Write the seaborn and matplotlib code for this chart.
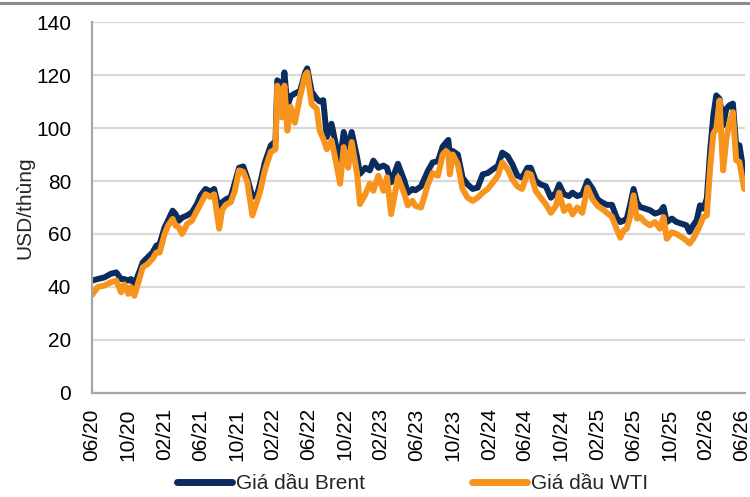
import seaborn as sns
import matplotlib.pyplot as plt
import matplotlib.dates as mdates
from matplotlib.lines import Line2D
import pandas as pd

# -----------------------------------------------------------
# Giá dầu Brent / WTI (USD/thùng)

ngay = [
    "2020-06-01", "2020-06-20", "2020-07-12", "2020-08-04", "2020-08-22", "2020-09-07",
    "2020-09-18", "2020-10-01", "2020-10-10", "2020-10-22", "2020-11-09", "2020-11-19",
    "2020-12-06", "2020-12-22", "2021-01-04", "2021-01-15", "2021-02-01", "2021-02-12",
    "2021-02-28", "2021-03-10", "2021-03-21", "2021-04-01", "2021-04-18", "2021-05-04",
    "2021-05-21", "2021-06-02", "2021-06-19", "2021-07-05", "2021-07-18", "2021-08-04",
    "2021-08-14", "2021-08-26", "2021-09-12", "2021-09-25", "2021-10-10", "2021-10-24",
    "2021-11-07", "2021-11-24", "2021-12-10", "2021-12-20", "2022-01-05", "2022-01-25",
    "2022-02-10", "2022-02-16", "2022-02-24", "2022-03-04", "2022-03-12", "2022-03-22",
    "2022-04-02", "2022-04-16", "2022-05-04", "2022-05-21", "2022-05-28", "2022-06-12",
    "2022-06-29", "2022-07-09", "2022-07-21", "2022-08-02", "2022-08-18", "2022-09-01",
    "2022-09-16", "2022-09-28", "2022-10-13", "2022-10-25", "2022-11-12", "2022-11-22",
    "2022-12-10", "2022-12-25", "2023-01-06", "2023-01-23", "2023-02-09", "2023-02-21",
    "2023-03-07", "2023-03-30", "2023-04-21", "2023-05-02", "2023-05-18", "2023-05-28",
    "2023-06-16", "2023-07-09", "2023-07-25", "2023-08-12", "2023-08-28", "2023-09-08",
    "2023-09-16", "2023-09-21", "2023-10-01", "2023-10-18", "2023-11-03", "2023-11-20",
    "2023-12-07", "2023-12-24", "2024-01-10", "2024-01-27", "2024-02-13", "2024-03-01",
    "2024-03-16", "2024-04-03", "2024-04-19", "2024-05-06", "2024-05-22", "2024-06-09",
    "2024-06-20", "2024-07-07", "2024-07-24", "2024-08-10", "2024-08-27", "2024-09-13",
    "2024-09-24", "2024-10-10", "2024-10-27", "2024-11-08", "2024-11-24", "2024-12-11",
    "2024-12-28", "2025-01-15", "2025-02-01", "2025-02-18", "2025-03-04", "2025-03-21",
    "2025-04-06", "2025-04-18", "2025-04-29", "2025-05-10", "2025-05-21", "2025-06-02",
    "2025-06-13", "2025-06-24", "2025-07-10", "2025-07-27", "2025-08-13", "2025-08-30",
    "2025-09-11", "2025-09-22", "2025-10-09", "2025-10-25", "2025-11-10", "2025-11-27",
    "2025-12-08", "2025-12-20", "2026-01-01", "2026-01-12", "2026-01-23", "2026-02-04",
    "2026-02-15", "2026-02-26", "2026-03-08", "2026-03-19", "2026-03-31", "2026-04-11",
    "2026-04-22", "2026-05-03", "2026-05-14", "2026-05-25", "2026-06-10",
]

brent = [
    42.4, 43.0, 43.6, 45.0, 45.5, 43.0,
    43.0, 42.4, 43.0, 41.0, 46.2, 49.3,
    51.2, 53.0, 55.6, 56.2, 62.5, 65.0,
    68.8, 67.5, 65.0, 66.2, 67.0, 68.2,
    71.3, 74.5, 77.0, 76.0, 77.0, 69.0,
    72.0, 73.0, 74.0, 79.0, 85.0, 85.5,
    81.0, 74.0, 75.0, 79.0, 87.0, 93.4,
    95.0, 118.0, 117.0, 112.0, 121.0, 108.0,
    112.0, 113.0, 114.0, 121.0, 122.5, 113.7,
    111.0, 110.0, 110.5, 96.6, 101.6, 94.0,
    87.7, 98.5, 92.0, 98.5, 89.0, 82.7,
    85.0, 84.0, 87.7, 85.0, 85.8, 85.0,
    79.5, 86.5, 80.0, 75.5, 77.0, 76.5,
    78.0, 83.8, 87.0, 87.5, 93.0, 94.5,
    95.5, 90.0, 91.3, 90.0, 81.3, 78.7,
    77.0, 77.5, 82.5, 83.0, 84.4, 85.7,
    90.7, 89.4, 86.3, 82.0, 81.3, 85.0,
    85.0, 80.0, 78.7, 78.0, 73.7, 75.6,
    78.7, 75.0, 74.3, 75.6, 74.3, 75.0,
    80.0, 77.0, 73.0, 71.8, 71.0, 71.0,
    66.2, 64.5, 65.0, 65.8, 70.8, 77.0,
    72.0, 70.2, 69.6, 69.0, 67.7, 68.3,
    70.2, 64.5, 65.8, 64.5, 63.9, 63.3,
    60.8, 63.3, 65.2, 70.8, 69.6, 73.3,
    91.0, 104.8, 112.3, 111.0, 101.0, 107.3,
    108.6, 109.2, 93.5, 93.5, 82.0,
]

wti = [
    37.0, 40.0, 40.5, 41.8, 42.4, 38.0,
    41.0, 37.4, 40.0, 36.7, 43.6, 47.4,
    48.7, 50.6, 53.0, 53.0, 60.0, 63.1,
    65.7, 63.1, 62.5, 60.0, 63.8, 65.0,
    68.8, 71.3, 75.0, 74.0, 75.0, 62.0,
    69.0, 71.0, 72.0, 76.0, 84.0, 83.5,
    79.5, 67.0, 72.5, 76.0, 84.0, 91.0,
    92.0, 116.0, 113.0, 104.0, 116.0, 99.0,
    108.0, 102.0, 112.0, 120.0, 121.0, 109.0,
    107.3, 99.0, 96.0, 92.0, 95.3, 87.7,
    79.0, 92.8, 85.0, 94.7, 82.7, 71.3,
    75.0, 79.0, 76.3, 82.0, 76.3, 81.4,
    67.5, 81.4, 75.0, 70.8, 72.5, 70.6,
    70.0, 78.7, 83.0, 82.0, 90.0, 91.3,
    90.5, 82.5, 90.0, 86.3, 77.0, 73.7,
    72.5, 73.7, 75.6, 77.0, 79.4, 82.0,
    87.0, 84.4, 80.6, 78.0, 77.0, 83.0,
    82.5, 76.2, 73.7, 71.2, 68.0, 70.6,
    75.6, 68.7, 70.6, 67.4, 70.0, 68.0,
    77.5, 73.0, 70.6, 69.3, 68.0, 66.5,
    61.8, 58.6, 61.3, 62.0, 66.4, 74.6,
    65.8, 66.4, 64.5, 63.3, 64.5, 62.0,
    66.4, 58.2, 60.7, 60.0, 58.9, 57.6,
    56.4, 58.2, 60.7, 63.3, 66.4, 67.0,
    84.7, 97.9, 99.7, 110.4, 84.0, 96.0,
    102.3, 106.0, 87.8, 87.2, 77.0,
]

ten_brent = "Giá dầu Brent"
ten_wti = "Giá dầu WTI"
mau_brent = "#0A2C5E"
mau_wti = "#F7941D"
y_ticks = [0, 20, 40, 60, 80, 100, 120, 140]

# -----------------------------------------------------------

df = pd.DataFrame({"ngay": pd.to_datetime(ngay), ten_brent: brent, ten_wti: wti})
df_long = df.melt(id_vars="ngay", var_name="loai", value_name="gia")

sns.set_style("white")
plt.rcParams["font.family"] = ["Liberation Sans", "DejaVu Sans"]

fig, ax = plt.subplots(figsize=(7.5, 4.97), dpi=100)
fig.subplots_adjust(left=0.1227, right=0.993, top=0.9557, bottom=0.2093)

sns.lineplot(
    data=df_long, x="ngay", y="gia", hue="loai",
    hue_order=[ten_brent, ten_wti],
    palette={ten_brent: mau_brent, ten_wti: mau_wti},
    linewidth=4.3, ax=ax, legend=False,
)

ax.set_ylim(0, 140)
ax.set_yticks(y_ticks)
ax.set_xlim(pd.Timestamp("2020-06-01"), pd.Timestamp("2026-06-12"))
ax.xaxis.set_major_locator(mdates.MonthLocator(bymonth=[2, 6, 10]))
ax.xaxis.set_major_formatter(mdates.DateFormatter("%m/%y"))
plt.setp(ax.get_xticklabels(), rotation=90)

ax.grid(axis="y", color="#d9d9d9", linewidth=1.6)
ax.set_axisbelow(True)
for s in ["top", "right"]:
    ax.spines[s].set_visible(False)
for s in ["left", "bottom"]:
    ax.spines[s].set_color("#a6a6a6")
    ax.spines[s].set_linewidth(1.6)

ax.tick_params(axis="both", labelsize=15, colors="#a6a6a6", labelcolor="black",
               length=5, width=1.4, direction="out")
ax.tick_params(axis="y", pad=10)
ax.tick_params(axis="x", pad=6)
ax.set_xlabel("")
ax.set_ylabel("USD/thùng", fontsize=15, labelpad=1)

# đường kẻ xám phía trên
fig.add_artist(Line2D([0, 1], [0.994, 0.994], color="#8c8c8c", linewidth=2.2,
                      transform=fig.transFigure))

handles = [Line2D([], [], color=mau_brent, linewidth=5),
           Line2D([], [], color=mau_wti, linewidth=5)]
fig.legend(handles, [ten_brent, ten_wti], loc="lower center",
           bbox_to_anchor=(0.55, -0.03), ncol=2, frameon=False, fontsize=15,
           handlelength=2.65, handletextpad=0.2, columnspacing=5.1)

plt.savefig("out.png", dpi=100)
